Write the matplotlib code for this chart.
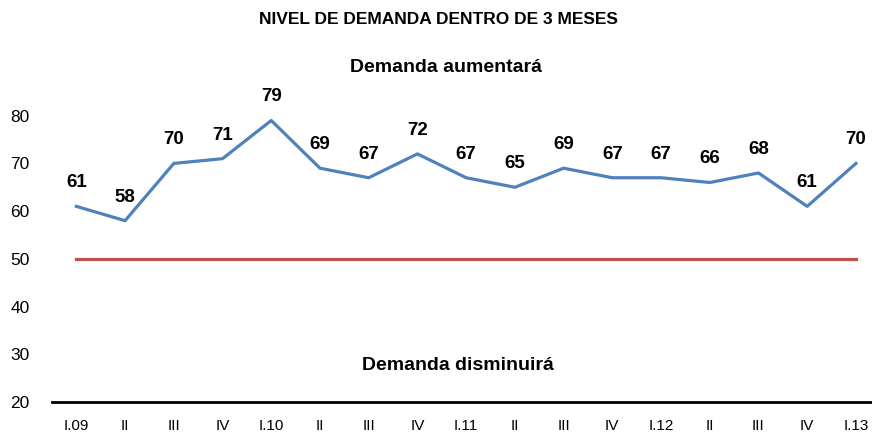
import matplotlib.pyplot as plt

plt.rcParams['font.family'] = ['Liberation Sans', 'DejaVu Sans']

quarters = ['I.09', 'II', 'III', 'IV', 'I.10', 'II', 'III', 'IV', 'I.11',
            'II', 'III', 'IV', 'I.12', 'II', 'III', 'IV', 'I.13']
demand = [61, 58, 70, 71, 79, 69, 67, 72, 67, 65, 69, 67, 67, 66, 68, 61, 70]
neutral = [50] * len(quarters)
yticks = [20, 30, 40, 50, 60, 70, 80]

fig = plt.figure(figsize=(8.72, 4.36), dpi=100)
ax = fig.add_axes([52 / 872, 1 - 402 / 436, 1 - 52 / 872, (402 - 68) / 436])

x = list(range(len(quarters)))
ax.plot(x, neutral, color='#C0504D', linewidth=2.3)
ax.plot(x, demand, color='#4F81BD', linewidth=2.3)

# value labels above each point
for xi, v in zip(x, demand):
    ax.annotate(str(v), (xi, v), xytext=(0, 17), textcoords='offset points',
                ha='center', va='center', fontsize=13.5, fontweight='bold')

ax.set_xlim(-0.5, len(quarters) - 0.67)
ax.set_ylim(20, 90)
ax.set_yticks(yticks)
ax.set_xticks(x)
ax.set_xticklabels(quarters, fontsize=11)
ax.tick_params(axis='y', length=0, labelsize=12.5, pad=16)
ax.tick_params(axis='x', length=0, pad=12)

for side in ['top', 'right', 'left']:
    ax.spines[side].set_visible(False)
ax.spines['bottom'].set_linewidth(2)

fig.text(438 / 872, 1 - 20 / 436, 'NIVEL DE DEMANDA DENTRO DE 3 MESES',
         ha='center', va='center', fontsize=12.5, fontweight='bold')
fig.text(446 / 872, 1 - 67 / 436, 'Demanda aumentará',
         ha='center', va='center', fontsize=14, fontweight='bold')
fig.text(458 / 872, 1 - 366 / 436, 'Demanda disminuirá',
         ha='center', va='center', fontsize=14, fontweight='bold')

fig.savefig('out.png', dpi=100)
